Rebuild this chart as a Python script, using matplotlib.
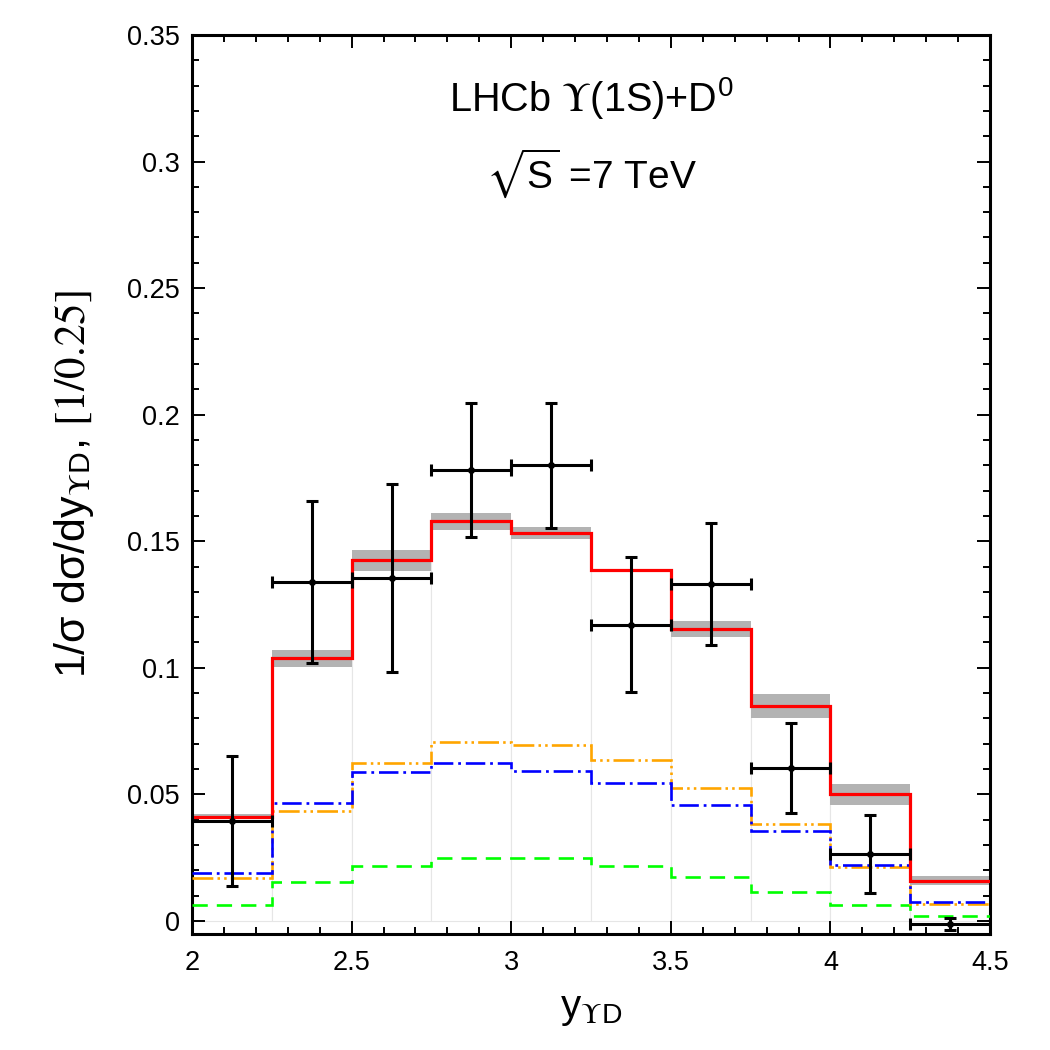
import matplotlib
matplotlib.use("Agg")
import matplotlib.pyplot as plt
import numpy as np

plt.rcParams['font.family'] = ['Liberation Sans', 'DejaVu Sans']
plt.rcParams['mathtext.fontset'] = 'stix'
plt.rcParams['lines.scale_dashes'] = False

# ---- data ----
bin_edges = [2.0, 2.25, 2.5, 2.75, 3.0, 3.25, 3.5, 3.75, 4.0, 4.25, 4.5]
total = [0.0410, 0.1037, 0.1424, 0.1578, 0.1534, 0.1385, 0.1152, 0.0849, 0.0501, 0.0159]
band_lo = [0.0402, 0.1005, 0.1384, 0.1546, 0.1508, 0.1380, 0.1122, 0.0800, 0.0458, 0.0141]
band_hi = [0.0422, 0.1069, 0.1465, 0.1611, 0.1558, 0.1390, 0.1185, 0.0895, 0.0539, 0.0178]
orange = [0.0169, 0.0435, 0.0624, 0.0705, 0.0696, 0.0637, 0.0527, 0.0382, 0.0211, 0.0067]
blue = [0.0191, 0.0465, 0.0588, 0.0624, 0.0593, 0.0545, 0.0459, 0.0356, 0.0221, 0.0075]
green = [0.0061, 0.0152, 0.0218, 0.0248, 0.0249, 0.0218, 0.0173, 0.0115, 0.0064, 0.0021]

data_x = [2.125, 2.375, 2.625, 2.875, 3.125, 3.375, 3.625, 3.875, 4.125, 4.375]
data_y = [0.0395, 0.1337, 0.1355, 0.1780, 0.1800, 0.1170, 0.1330, 0.0604, 0.0264, -0.0012]
data_err = [0.0256, 0.0320, 0.0373, 0.0265, 0.0247, 0.0266, 0.0240, 0.0178, 0.0153, 0.0023]
data_xerr = [0.125] * 10

xticks = [2, 2.5, 3, 3.5, 4, 4.5]
xticklabels = ['2', '2.5', '3', '3.5', '4', '4.5']
yticks = [0, 0.05, 0.1, 0.15, 0.2, 0.25, 0.3, 0.35]
yticklabels = ['0', '0.05', '0.1', '0.15', '0.2', '0.25', '0.3', '0.35']

# ---- figure ----
fig = plt.figure(figsize=(10.5, 10.5), dpi=100)
ax = fig.add_axes([0.1829, 0.1109, 0.76, 0.8558])

edges = np.array(bin_edges)
centers = 0.5 * (edges[:-1] + edges[1:])
widths = np.diff(edges)

# faint bar outlines
ax.bar(centers, total, width=widths, color='white', edgecolor='#e6e6e6',
       linewidth=0.8, zorder=1)
# uncertainty band
ax.bar(centers, np.array(band_hi) - np.array(band_lo), bottom=band_lo,
       width=widths, color='#b3b3b3', linewidth=0, zorder=2)

ax.stairs(green, edges, baseline=None, color='#00ff00', linewidth=1.9,
          linestyle=(0, (11, 6.5)), zorder=3)
ax.stairs(orange, edges, baseline=None, color='#ffa500', linewidth=1.9,
          linestyle=(0, (15, 3, 1.8, 3, 1.8, 3)), zorder=3)
ax.stairs(blue, edges, baseline=None, color='#0000ff', linewidth=1.9,
          linestyle=(0, (14, 3.5, 2, 3.5)), zorder=4)
ax.stairs(total, edges, baseline=None, color='#ff0000', linewidth=2.3, zorder=5)

ax.errorbar(data_x, data_y, yerr=data_err, xerr=data_xerr, fmt='o', color='black',
            markersize=4, elinewidth=2.2, capsize=4.5, capthick=2.2, zorder=6)

ax.set_xlim(2, 4.5)
ax.set_ylim(-0.005, 0.35)
ax.set_xticks(xticks)
ax.set_xticklabels(xticklabels)
ax.set_yticks(yticks)
ax.set_yticklabels(yticklabels)
ax.set_xticks(np.arange(2.0, 4.5001, 0.1), minor=True)
ax.set_yticks(np.arange(0.0, 0.3501, 0.01), minor=True)

ax.tick_params(which='both', direction='in', top=True, right=True,
               labelsize=19.5, width=1.4)
ax.tick_params(axis='x', which='both', pad=12)
ax.tick_params(axis='y', which='both', pad=9)
ax.tick_params(which='major', length=9.5)
ax.tick_params(which='minor', length=5)
for s in ax.spines.values():
    s.set_linewidth(2.2)

ax.set_xlabel(r'y$_{\Upsilon\mathregular{D}}$', fontsize=29, labelpad=10)
ax.set_ylabel(r'1/σ dσ/dy$_{\Upsilon\mathregular{D}}$, $\mathrm{[1/0.25]}$',
              fontsize=31, labelpad=22)

ax.text(0.5, 0.93, r'LHCb $\Upsilon$(1S)+D$^{\mathregular{0}}$', transform=ax.transAxes,
        ha='center', va='center', fontsize=28.5)
ax.text(0.5, 0.846, r'$\sqrt{\mathregular{S}}$ =7 TeV', transform=ax.transAxes,
        ha='center', va='center', fontsize=28)

fig.savefig('out.png', dpi=100)
